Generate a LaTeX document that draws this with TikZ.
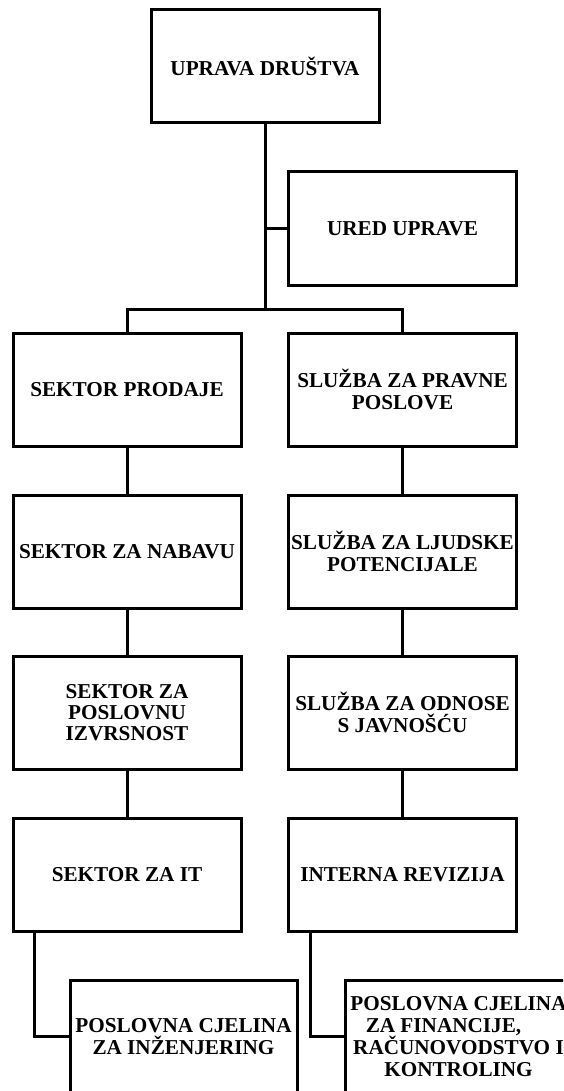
\documentclass[tikz,border=0pt]{standalone}
\usepackage{fontspec}
\setmainfont{Liberation Serif}
\begin{document}
\begin{tikzpicture}[x=1pt,y=-1pt,
  box/.style={draw=black,line width=3pt,fill=white,rectangle,minimum width=228pt,minimum height=113pt,
    inner sep=0pt,align=center,font=\fontsize{21.2}{21.3}\selectfont\bfseries},
  conn/.style={draw=black,line width=3pt}]
\clip (0,0) rectangle (563,1091);
\fill[white] (0,0) rectangle (563,1091);
% boxes
\node[box] (top)  at (265,66.5)   {UPRAVA DRUŠTVA};
\node[box] (ured) at (402.5,228.5) {URED UPRAVE};
\node[box] (sp)   at (127,389.5)   {SEKTOR PRODAJE};
\node[box] (nab)  at (127,551.5)   {SEKTOR ZA NABAVU};
\node[box] (izv)  at (127,712.5)   {SEKTOR ZA\\POSLOVNU\\IZVRSNOST};
\node[box] (it)   at (127,875)     {SEKTOR ZA IT};
\node[box] (pr)   at (402.5,389.5) {SLUŽBA ZA PRAVNE\\POSLOVE};
\node[box] (lj)   at (402.5,551.5) {SLUŽBA ZA LJUDSKE\\POTENCIJALE};
\node[box] (jav)  at (402.5,712.5) {SLUŽBA ZA ODNOSE\\S JAVNOŠĆU};
\node[box] (ir)   at (402.5,875)   {INTERNA REVIZIJA};
\node[box,minimum width=227pt] (inz) at (183.5,1036.5) {POSLOVNA CJELINA\\ZA INŽENJERING};
\node[box,minimum width=227pt] (fin) at (458.5,1036.5) {POSLOVNA CJELINA\\\hspace*{-30pt}ZA FINANCIJE,\\RAČUNOVODSTVO I\\KONTROLING};
% connectors
\coordinate (junction) at (265,309);
\draw[conn] (top.south) -- (junction);
\draw[conn] (ured.west) -- (ured.west -| top.south);
\draw[conn] (sp.north) |- (junction) -| (pr.north);
\draw[conn] (sp) -- (nab);
\draw[conn] (nab) -- (izv);
\draw[conn] (izv) -- (it);
\draw[conn] (pr) -- (lj);
\draw[conn] (lj) -- (jav);
\draw[conn] (jav) -- (ir);
\draw[conn] ([xshift=23pt]it.south west) |- (inz.west);
\draw[conn] ([xshift=23pt]ir.south west) |- (fin.west);
\end{tikzpicture}
\end{document}
